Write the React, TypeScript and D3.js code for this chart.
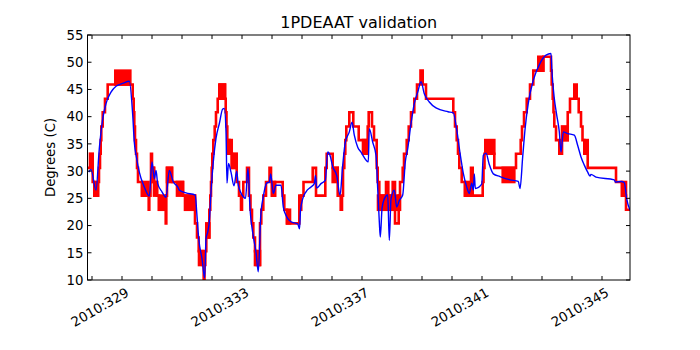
import * as d3 from "d3";

// measured temperature (quantized telemetry), step-after: [day of year, degC]
const redSteps: [number, number][] = [
  [327.85, 30.6], [328.023, 28], [328.077, 25.5], [328.2, 28], [328.233, 30.6],
  [328.267, 33.2], [328.29, 35.7], [328.31, 38.2], [328.357, 40.8], [328.433, 43.3],
  [328.523, 45.9], [329.357, 43.3], [329.39, 40.8], [329.41, 38.2], [329.433, 35.7],
  [329.467, 33.2], [329.5, 30.6], [329.533, 28], [329.667, 25.5], [329.89, 22.9],
  [329.91, 25.5], [329.95, 28], [329.967, 33.2], [330.0, 30.6], [330.067, 28],
  [330.167, 25.5], [330.233, 22.9], [330.457, 20.4], [330.477, 25.5], [330.5, 30.6],
  [330.667, 28], [331.033, 25.5], [331.433, 20.4], [331.5, 17.8], [331.557, 15.3],
  [331.69, 12.75], [331.723, 10.2], [331.75, 12.75], [331.777, 15.3], [331.81, 17.8],
  [331.91, 22.9], [331.943, 25.5], [331.967, 28], [331.99, 30.6], [332.01, 33.2],
  [332.043, 35.7], [332.09, 38.2], [332.133, 40.8], [332.19, 43.3], [332.243, 45.9],
  [332.433, 43.3], [332.457, 40.8], [332.483, 38.2], [332.51, 35.7], [332.583, 33.2],
  [332.667, 30.6], [332.823, 28], [332.9, 25.5], [332.967, 22.9], [333.0, 25.5],
  [333.043, 28], [333.167, 30.6], [333.233, 25.5], [333.283, 22.9], [333.333, 20.4],
  [333.377, 17.8], [333.433, 15.3], [333.49, 12.75], [333.6, 20.4], [333.643, 22.9],
  [333.71, 25.5], [333.8, 28], [333.917, 30.6], [333.967, 28], [334.0, 25.5],
  [334.1, 28], [334.357, 25.5], [334.41, 22.9], [334.5, 20.4], [334.91, 22.9],
  [334.967, 25.5], [335.05, 28], [335.357, 30.6], [335.467, 25.5], [335.777, 30.6],
  [335.823, 33.2], [336.023, 30.6], [336.19, 25.5], [336.29, 22.9], [336.333, 25.5],
  [336.367, 30.6], [336.41, 33.2], [336.443, 35.7], [336.477, 38.2], [336.577, 40.8],
  [336.71, 38.2], [336.89, 35.7], [337.19, 38.2], [337.223, 40.8], [337.333, 38.2],
  [337.4, 35.7], [337.49, 30.6], [337.523, 28], [337.577, 25.5], [337.8, 28],
  [337.877, 25.5], [338.023, 28], [338.1, 20.4], [338.223, 25.5], [338.267, 28],
  [338.357, 30.6], [338.4, 33.2], [338.49, 35.7], [338.557, 38.2], [338.633, 40.8],
  [338.743, 43.3], [338.833, 45.9], [338.95, 48.45], [339.023, 45.9], [339.133, 43.3],
  [340.043, 40.8], [340.1, 38.2], [340.157, 35.7], [340.2, 33.2], [340.243, 30.6],
  [340.323, 28], [340.433, 25.5], [340.633, 30.6], [340.69, 25.5], [341.023, 28],
  [341.05, 30.6], [341.083, 33.2], [341.41, 30.6], [342.133, 33.2], [342.29, 35.7],
  [342.333, 38.2], [342.4, 40.8], [342.49, 43.3], [342.6, 45.9], [342.71, 48.45],
  [343.043, 51], [343.3, 48.45], [343.323, 45.9], [343.357, 43.3], [343.383, 40.8],
  [343.41, 38.2], [343.467, 35.7], [343.577, 33.2], [343.667, 35.7], [343.857, 40.8],
  [343.933, 43.3], [344.077, 45.9], [344.157, 43.3], [344.223, 40.8], [344.3, 38.2],
  [344.35, 35.7], [344.41, 33.2], [344.523, 30.6], [345.467, 28], [345.667, 25.5],
  [345.8, 22.9], [345.933, 22.9],
];

// spans where telemetry flickers between two adjacent levels: [start, end, low, high]
const redBands: [number, number, number, number][] = [
  [327.933, 328.023, 30.6, 33.2], [328.077, 328.2, 25.5, 28], [328.777, 329.277, 45.9, 48.45],
  [329.667, 329.867, 25.5, 28], [329.983, 330.067, 28, 30.6], [330.067, 330.167, 25.5, 28],
  [330.233, 330.433, 22.9, 25.5], [330.5, 330.667, 28, 30.6], [330.833, 331.033, 25.5, 28],
  [331.1, 331.433, 22.9, 25.5], [331.567, 331.69, 12.75, 15.3], [331.81, 331.91, 17.8, 20.4],
  [332.267, 332.433, 43.3, 45.9], [332.51, 332.657, 33.2, 35.7], [332.657, 332.823, 30.6, 33.2],
  [333.433, 333.6, 12.75, 15.3], [334.0, 334.1, 25.5, 28], [334.5, 334.6, 20.4, 22.9],
  [334.91, 334.967, 22.9, 25.5], [336.023, 336.19, 28, 30.6], [337.033, 337.19, 33.2, 35.7],
  [337.533, 338.267, 22.9, 25.5], [340.433, 340.633, 25.5, 28], [341.11, 341.41, 33.2, 35.7],
  [341.69, 342.077, 28, 30.6], [342.877, 343.043, 48.45, 51], [343.667, 343.857, 35.7, 38.2],
  [344.41, 344.523, 33.2, 35.7], [345.667, 345.8, 25.5, 28],
];

// thermal model prediction: [day of year, degC]
const modelPoints: [number, number][] = [
  [327.89, 29.8], [327.967, 30.3], [328.133, 26.5], [328.243, 34.1], [328.357, 39.6],
  [328.467, 42.4], [328.633, 44.5], [328.8, 45.6], [329.023, 46.1], [329.243, 46.5],
  [329.357, 40.3], [329.41, 35.3], [329.49, 32.3], [329.577, 29.8], [329.743, 27.1],
  [329.91, 25.4], [330.0, 31.7], [330.077, 28.6], [330.133, 30.1], [330.19, 27.7],
  [330.333, 26.2], [330.467, 25.2], [330.577, 30.1], [330.71, 28.0], [330.857, 27.1],
  [330.91, 26.5], [331.133, 26.0], [331.443, 25.6], [331.49, 22.5], [331.557, 17.6],
  [331.667, 13.9], [331.757, 10.4], [331.8, 17.6], [331.857, 18.8], [331.91, 20.7],
  [331.967, 26.2], [332.043, 31.7], [332.133, 36.0], [332.243, 38.7], [332.357, 41.4],
  [332.41, 41.5], [332.467, 37.2], [332.5, 27.8], [332.55, 31.4], [332.633, 29.8],
  [332.733, 27.3], [332.823, 30.0], [332.877, 27.4], [333.043, 25.3], [333.117, 25.0],
  [333.2, 30.5], [333.267, 23.1], [333.377, 18.0], [333.467, 15.1], [333.543, 11.5],
  [333.623, 21.6], [333.71, 25.3], [333.823, 27.8], [333.91, 28.0], [333.957, 29.5],
  [334.043, 25.9], [334.133, 27.4], [334.3, 27.4], [334.377, 23.4], [334.49, 21.6],
  [334.633, 20.7], [334.857, 20.3], [334.917, 19.4], [334.95, 22.8], [335.023, 24.9],
  [335.133, 26.2], [335.3, 27.1], [335.41, 27.7], [335.45, 29.2], [335.49, 26.9],
  [335.633, 27.7], [335.777, 28.3], [335.857, 33.5], [335.933, 32.9], [336.023, 30.8],
  [336.157, 29.2], [336.267, 25.6], [336.357, 31.1], [336.443, 35.3], [336.577, 37.2],
  [336.667, 39.0], [336.743, 36.6], [336.857, 34.4], [336.967, 33.5], [337.21, 31.7],
  [337.243, 37.8], [337.357, 35.3], [337.467, 32.9], [337.523, 26.8], [337.577, 20.7],
  [337.61, 17.9], [337.667, 23.1], [337.743, 24.9], [337.857, 25.6], [337.91, 17.3],
  [337.967, 24.9], [338.077, 26.5], [338.157, 23.4], [338.243, 24.6], [338.357, 25.6],
  [338.443, 31.7], [338.523, 34.1], [338.633, 38.7], [338.743, 42.4], [338.857, 44.5],
  [338.967, 46.4], [339.077, 44.2], [339.243, 42.7], [339.467, 41.6], [339.867, 40.9],
  [340.043, 40.7], [340.157, 37.6], [340.267, 33.3], [340.377, 29.6], [340.49, 27.1],
  [340.577, 25.9], [340.657, 27.8], [340.71, 26.5], [340.743, 29.5], [340.777, 26.8],
  [340.99, 27.6], [341.043, 32.9], [341.133, 33.3], [341.233, 31.4], [341.377, 29.5],
  [341.6, 29.0], [341.933, 28.4], [342.21, 28.1], [342.267, 26.8], [342.357, 32.7],
  [342.433, 37.6], [342.543, 42.5], [342.71, 46.7], [342.933, 49.8], [343.133, 51.3],
  [343.3, 51.6], [343.333, 48.2], [343.41, 43.3], [343.49, 40.3], [343.577, 37.2],
  [343.633, 33.5], [343.71, 37.2], [343.857, 36.9], [344.077, 36.6], [344.19, 34.7],
  [344.3, 32.6], [344.41, 31.1], [344.523, 29.8], [344.6, 29.1], [344.633, 29.4],
  [344.8, 28.9], [345.41, 28.4], [345.443, 28.0], [345.633, 28.1], [345.743, 27.9],
  [345.823, 24.9], [345.933, 22.8],
];

const yTicks = [10, 15, 20, 25, 30, 35, 40, 45, 50, 55];
const dayTicks = [328, 329, 330, 331, 332, 333, 334, 335, 336, 337, 338, 339, 340, 341, 342, 343, 344, 345];
const labelDays = [329, 333, 337, 341, 345];
const labelText = ["2010:329", "2010:333", "2010:337", "2010:341", "2010:345"];

const font = "'DejaVu Sans', sans-serif";

export default function App() {
  const left = 87.5, right = 630, top = 35, bottom = 280;

  const x = d3.scaleLinear().domain([327.85, 345.933]).range([left, right]);
  const y = d3.scaleLinear().domain([10, 55]).range([bottom, top]);

  const redLine = d3
    .line<[number, number]>()
    .x((d) => x(d[0]))
    .y((d) => y(d[1]))
    .curve(d3.curveStepAfter);

  const blueLine = d3
    .line<[number, number]>()
    .x((d) => x(d[0]))
    .y((d) => y(d[1]))
    .curve(d3.curveMonotoneX);

  return (
    <svg
      width={700}
      height={350}
      style={{ position: "absolute", left: 0, top: 0, background: "#fff" }}
      fontFamily={font}
    >
      <rect width={700} height={350} fill="#fff" />
      <defs>
        <clipPath id="plot">
          <rect x={left} y={top} width={right - left} height={bottom - top} />
        </clipPath>
      </defs>

      <g clipPath="url(#plot)">
        {redBands.map((b, i) => (
          <rect
            key={i}
            x={x(b[0])}
            width={x(b[1]) - x(b[0])}
            y={y(b[3])}
            height={y(b[2]) - y(b[3])}
            fill="#ff0000"
            stroke="#ff0000"
            strokeWidth={2.6}
          />
        ))}
        <path d={redLine(redSteps) ?? ""} fill="none" stroke="#ff0000" strokeWidth={2.6} />
        <path d={blueLine(modelPoints) ?? ""} fill="none" stroke="#0000ff" strokeWidth={1.4} />
      </g>

      {/* frame */}
      <rect x={left} y={top} width={right - left} height={bottom - top} fill="none" stroke="#000" strokeWidth={1} />

      {/* x ticks, inward on bottom and top */}
      {dayTicks.map((d) => (
        <g key={d}>
          <line x1={x(d)} x2={x(d)} y1={bottom} y2={bottom - 4} stroke="#000" />
          <line x1={x(d)} x2={x(d)} y1={top} y2={top + 4} stroke="#000" />
        </g>
      ))}
      {labelDays.map((d, i) => (
        <text
          key={d}
          transform={`translate(${x(d) + 3},${bottom + 7}) rotate(-30)`}
          textAnchor="end"
          dy="0.72em"
          fontSize={13.3}
        >
          {labelText[i]}
        </text>
      ))}

      {/* y ticks, inward on left and right */}
      {yTicks.map((t) => (
        <g key={t}>
          <line x1={left} x2={left + 4} y1={y(t)} y2={y(t)} stroke="#000" />
          <line x1={right} x2={right - 4} y1={y(t)} y2={y(t)} stroke="#000" />
          <text x={left - 4} y={y(t)} dy="0.36em" textAnchor="end" fontSize={13.3}>
            {t}
          </text>
        </g>
      ))}

      <text transform={`translate(55,${(top + bottom) / 2}) rotate(-90)`} textAnchor="middle" fontSize={13.3}>
        Degrees (C)
      </text>
      <text x={(left + right) / 2} y={28} textAnchor="middle" fontSize={16}>
        1PDEAAT validation
      </text>
    </svg>
  );
}
